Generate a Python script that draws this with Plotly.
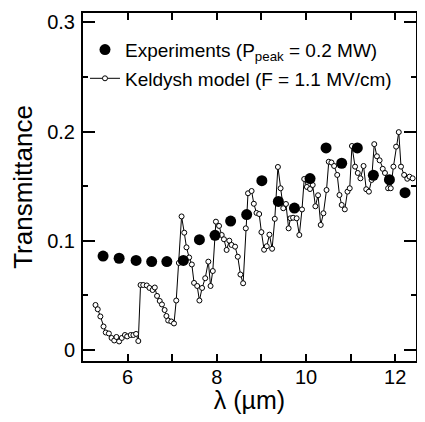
import plotly.graph_objects as go

# Experiments (filled circles)
exp_lambda = [5.45, 5.81, 6.19, 6.54, 6.88, 7.25, 7.61, 7.96, 8.31, 8.67,
              9.01, 9.38, 9.74, 10.09, 10.45, 10.80, 11.15, 11.51, 11.87, 12.22]
exp_T = [0.086, 0.084, 0.082, 0.081, 0.081, 0.082, 0.101, 0.105, 0.118, 0.124,
         0.155, 0.136, 0.130, 0.157, 0.185, 0.171, 0.185, 0.160, 0.156, 0.144]

# Keldysh model (open circles + line)
mod_lambda = [5.28, 5.33, 5.39, 5.46, 5.51, 5.58, 5.64, 5.70, 5.75, 5.81,
              5.87, 5.94, 5.99, 6.07, 6.13, 6.19, 6.24, 6.29, 6.35, 6.43,
              6.49, 6.56, 6.61, 6.66, 6.72, 6.77, 6.83, 6.87, 6.91, 6.98,
              7.04, 7.09, 7.15, 7.21, 7.27, 7.32, 7.38, 7.44, 7.49, 7.56,
              7.61, 7.67, 7.74, 7.81, 7.86, 7.91, 7.98, 8.05, 8.11, 8.16,
              8.22, 8.28, 8.33, 8.41, 8.47, 8.53, 8.59, 8.65, 8.70, 8.78,
              8.83, 8.89, 8.95, 9.00, 9.06, 9.12, 9.18, 9.24, 9.30, 9.37,
              9.43, 9.49, 9.55, 9.61, 9.65, 9.71, 9.79, 9.85, 9.91, 9.96,
              10.02, 10.09, 10.15, 10.21, 10.27, 10.33, 10.39, 10.46, 10.51, 10.57,
              10.63, 10.70, 10.75, 10.80, 10.87, 10.93, 10.98, 11.03, 11.10, 11.16,
              11.22, 11.29, 11.35, 11.41, 11.47, 11.53, 11.59, 11.65, 11.72, 11.77,
              11.84, 11.90, 11.96, 12.02, 12.08, 12.13, 12.20, 12.27, 12.32, 12.39]
mod_T = [0.0412, 0.0373, 0.0307, 0.0215, 0.0160, 0.0151, 0.0110, 0.0087, 0.0119, 0.0078,
         0.0110, 0.0137, 0.0124, 0.0137, 0.0137, 0.0147, 0.0082, 0.0595, 0.0595, 0.0591,
         0.0568, 0.0549, 0.0572, 0.0495, 0.0449, 0.0417, 0.0366, 0.0311, 0.0270, 0.0261,
         0.0243, 0.0453, 0.0797, 0.1223, 0.1074, 0.0940, 0.0847, 0.0783, 0.0614, 0.0586,
         0.0453, 0.0568, 0.0657, 0.0809, 0.0586, 0.0723, 0.1175, 0.1136, 0.1053, 0.1014,
         0.0916, 0.1001, 0.0962, 0.0946, 0.0854, 0.0691, 0.0611, 0.1114, 0.1435, 0.1456,
         0.1339, 0.1255, 0.1245, 0.1079, 0.0918, 0.0950, 0.1056, 0.0927, 0.1201, 0.1676,
         0.1481, 0.1298, 0.1337, 0.1114, 0.1206, 0.1211, 0.1206, 0.1053, 0.1287, 0.1566,
         0.1493, 0.1474, 0.1511, 0.1316, 0.1417, 0.1145, 0.1252, 0.1465, 0.1724, 0.1717,
         0.1685, 0.1603, 0.1419, 0.1328, 0.1288, 0.1450, 0.1481, 0.1868, 0.1679, 0.1621,
         0.1572, 0.1685, 0.1472, 0.1450, 0.1557, 0.1885, 0.1774, 0.1737, 0.1659, 0.1621,
         0.1481, 0.1481, 0.1679, 0.1862, 0.1995, 0.1679, 0.1603, 0.1568, 0.1587, 0.1572]

x_ticks = [6, 8, 10, 12]
y_ticks = [0, 0.1, 0.2, 0.3]

FONT = "Liberation Sans, Arial, Helvetica, sans-serif"

fig = go.Figure()
fig.add_trace(go.Scatter(
    x=mod_lambda, y=mod_T, mode="lines+markers",
    name="Keldysh model (F = 1.1 MV/cm)",
    line=dict(color="black", width=1),
    marker=dict(symbol="circle", size=5, color="white",
                line=dict(color="black", width=1)),
    legendrank=2, legendgroup="b"))
fig.add_trace(go.Scatter(
    x=exp_lambda, y=exp_T, mode="markers",
    name="Experiments (P<sub>peak</sub> = 0.2 MW)",
    marker=dict(symbol="circle", size=11, color="black"),
    legendrank=1, legendgroup="a"))

axis_common = dict(showline=True, linecolor="black", linewidth=2, mirror="allticks",
                   ticks="inside", tickcolor="black", tickwidth=1.5,
                   showgrid=False, zeroline=False, automargin=False,
                   tickfont=dict(family=FONT, size=20, color="black"))

fig.update_xaxes(range=[5.0, 12.466], tickvals=x_ticks, ticklen=7,
                 minor=dict(dtick=1, tick0=0, ticks="inside", ticklen=7,
                            tickcolor="black", tickwidth=1.5, showgrid=False),
                 title=dict(text="λ (µm)", font=dict(family=FONT, size=25, color="black"),
                            standoff=6),
                 ticklabelstandoff=-3,
                 **axis_common)
fig.update_yaxes(range=[-0.0101, 0.3086], tickvals=y_ticks, ticklen=12,
                 minor=dict(dtick=0.05, tick0=0, ticks="inside", ticklen=5,
                            tickcolor="black", tickwidth=1.5, showgrid=False),
                 title=dict(text="Transmittance", font=dict(family=FONT, size=26, color="black"),
                            standoff=8),
                 ticklabelstandoff=2,
                 **axis_common)

# The page body adds an 8px offset; size the figure so it fits the window without
# overflow while the plot lands where the reference has it.
fig.update_layout(
    width=409, height=406,
    margin=dict(l=75, r=1, t=5, b=53),
    plot_bgcolor="white", paper_bgcolor="white",
    showlegend=True,
    legend=dict(x=0.006, y=0.949, xanchor="left", yanchor="top",
                bgcolor="rgba(0,0,0,0)", borderwidth=0,
                font=dict(family=FONT, size=19, color="black"),
                traceorder="grouped", tracegroupgap=1),
)

fig.write_html("out.html")
